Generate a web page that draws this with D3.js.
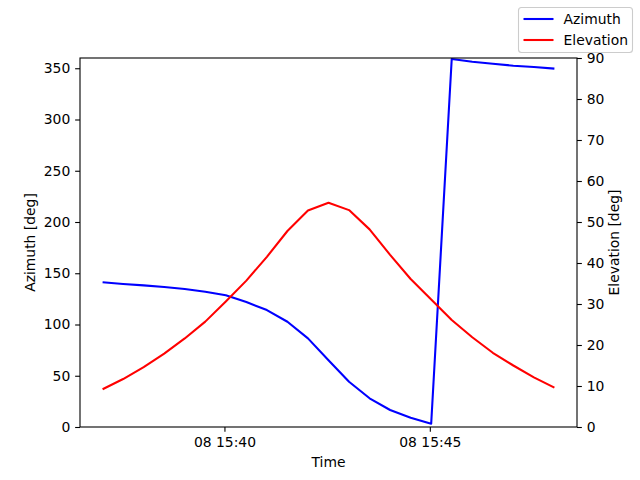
<!DOCTYPE html>
<html>
<head>
<meta charset="utf-8">
<script src="https://cdn.jsdelivr.net/npm/d3@7"></script>
<style>
  body { margin: 0; background: #fff; }
  text { font-family: "DejaVu Sans", sans-serif; }
</style>
</head>
<body>
<div id="chart"></div>
<script>
// Pass times (UTC, day 08) and readings every 30 s
const times = ["15:37:02", "15:37:32", "15:38:02", "15:38:32", "15:39:02", "15:39:32",
	"15:40:02", "15:40:32", "15:41:02", "15:41:32", "15:42:02", "15:42:32",
	"15:43:02", "15:43:32", "15:44:02", "15:44:32", "15:45:02", "15:45:32",
	"15:46:02", "15:46:32", "15:47:02", "15:47:32", "15:48:02"];
const azimuth = [141.2, 139.5, 138.2, 136.6, 134.6, 132.0, 128.5, 121.9, 114.1, 102.7, 86.5, 65.2,
	44.2, 28.0, 16.6, 9.1, 3.2, 359.0, 356.4, 354.4, 352.5, 351.2, 349.6];
const elevation = [9.2, 11.7, 14.6, 17.9, 21.6, 25.7, 30.6, 35.7, 41.5, 47.8, 52.8, 54.7,
	52.9, 48.2, 42.0, 36.1, 31.1, 26.1, 21.9, 18.1, 15.0, 12.1, 9.6];
const seriesNames = ["Azimuth", "Elevation"];
const seriesColors = ["blue", "red"];
const azTicks = [0, 50, 100, 150, 200, 250, 300, 350];
const elTicks = [0, 10, 20, 30, 40, 50, 60, 70, 80, 90];

const w = 640, h = 480,
	margin = {top: 58, right: 63, bottom: 53, left: 80},
	width = w - margin.left - margin.right,
	height = h - margin.top - margin.bottom,
	fontSize = 13.9,
	tickLen = 4.86;

const parseTime = d3.utcParse("%Y-%m-%d %H:%M:%S");
const dates = times.map(t => parseTime("2023-06-08 " + t));

// x domain gets a 5% margin each side like matplotlib autoscale
const t0 = d3.min(dates), t1 = d3.max(dates),
	pad = (t1 - t0) * 0.05;
const x = d3.scaleUtc()
	.domain([new Date(+t0 - pad), new Date(+t1 + pad)])
	.range([0, width]);
const yAz = d3.scaleLinear().domain([0, 360]).range([height, 0]);
const yEl = d3.scaleLinear().domain([0, 90]).range([height, 0]);

const svg = d3.select("#chart").append("svg")
	.attr("width", w)
	.attr("height", h);

const g = svg.append("g")
	.attr("transform", `translate(${margin.left},${margin.top})`);

/////////////////////////////////////////////////////////
//////////////////////// Axes ///////////////////////////
/////////////////////////////////////////////////////////
const styleAxis = function(sel) {
	sel.select(".domain").remove();
	sel.selectAll(".tick line").attr("stroke", "#000").attr("stroke-width", 1.1);
	sel.selectAll(".tick text")
		.attr("fill", "#000")
		.style("font-size", fontSize + "px");
};

g.append("g")
	.attr("transform", `translate(0,${height})`)
	.call(d3.axisBottom(x)
		.ticks(d3.utcMinute.every(5))
		.tickFormat(d3.utcFormat("%d %H:%M"))
		.tickSize(tickLen).tickPadding(4.86))
	.call(styleAxis);

g.append("g")
	.call(d3.axisLeft(yAz).tickValues(azTicks).tickSize(tickLen).tickPadding(4.86))
	.call(styleAxis);

g.append("g")
	.attr("transform", `translate(${width},0)`)
	.call(d3.axisRight(yEl).tickValues(elTicks).tickSize(tickLen).tickPadding(4.86))
	.call(styleAxis);

/////////////////////////////////////////////////////////
//////////////////////// Lines //////////////////////////
/////////////////////////////////////////////////////////
const azLine = d3.line()
	.x((d, i) => x(dates[i]))
	.y(d => yAz(d));
const elLine = d3.line()
	.x((d, i) => x(dates[i]))
	.y(d => yEl(d));

const clip = svg.append("defs").append("clipPath").attr("id", "plot")
	.append("rect").attr("width", width).attr("height", height);

g.append("path")
	.datum(azimuth)
	.attr("d", azLine)
	.attr("fill", "none")
	.attr("stroke", seriesColors[0])
	.attr("stroke-width", 2.08)
	.attr("stroke-linejoin", "round")
	.attr("clip-path", "url(#plot)");

g.append("path")
	.datum(elevation)
	.attr("d", elLine)
	.attr("fill", "none")
	.attr("stroke", seriesColors[1])
	.attr("stroke-width", 2.08)
	.attr("stroke-linejoin", "round")
	.attr("clip-path", "url(#plot)");

// frame
g.append("rect")
	.attr("width", width)
	.attr("height", height)
	.attr("fill", "none")
	.attr("stroke", "#000")
	.attr("stroke-width", 1.1);

/////////////////////////////////////////////////////////
/////////////////////// Labels //////////////////////////
/////////////////////////////////////////////////////////
svg.append("text")
	.text("Time")
	.attr("x", margin.left + width / 2)
	.attr("y", 466.5)
	.attr("text-anchor", "middle")
	.style("font-size", fontSize + "px");

svg.append("text")
	.text("Azimuth [deg]")
	.attr("transform", `translate(35,${margin.top + height / 2}) rotate(-90)`)
	.attr("text-anchor", "middle")
	.style("font-size", fontSize + "px");

svg.append("text")
	.text("Elevation [deg]")
	.attr("transform", `translate(619,${margin.top + height / 2}) rotate(-90)`)
	.attr("text-anchor", "middle")
	.style("font-size", fontSize + "px");

/////////////////////////////////////////////////////////
/////////////////////// Legend //////////////////////////
/////////////////////////////////////////////////////////
const legend = svg.append("g").attr("class", "legend");
legend.append("rect")
	.attr("x", 518.5)
	.attr("y", 7.5)
	.attr("width", 114)
	.attr("height", 45)
	.attr("rx", 3)
	.attr("fill", "#fff")
	.attr("fill-opacity", 0.8)
	.attr("stroke", "#cccccc")
	.attr("stroke-width", 1.1);

const items = legend.selectAll(".item")
	.data(seriesNames)
	.enter()
	.append("g")
	.attr("class", "item")
	.attr("transform", (d, i) => `translate(523.5,${19 + i * 21})`);
items.append("line")
	.attr("x1", 0).attr("x2", 30)
	.attr("stroke", (d, i) => seriesColors[i])
	.attr("stroke-width", 2.08);
items.append("text")
	.text(d => d)
	.attr("x", 40)
	.attr("y", 5)
	.style("font-size", fontSize + "px");
</script>
</body>
</html>
